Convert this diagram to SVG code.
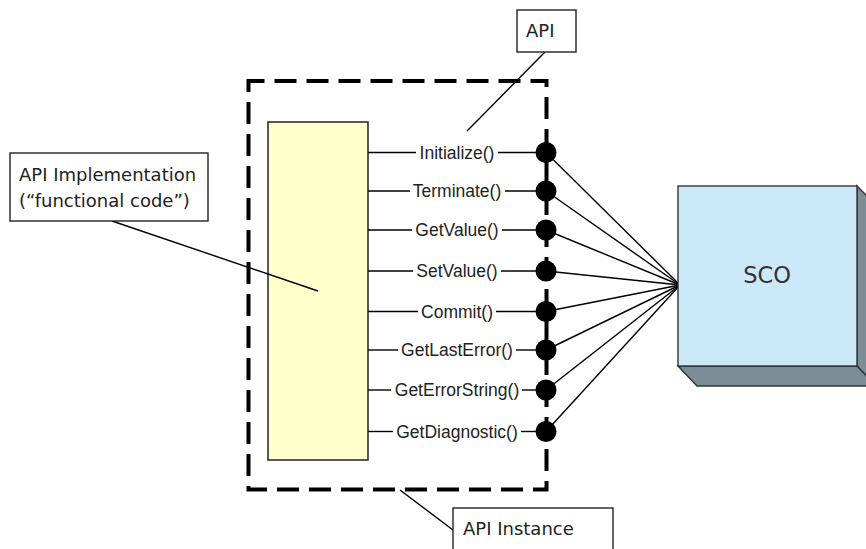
<svg xmlns="http://www.w3.org/2000/svg" width="866" height="549" viewBox="0 0 866 549">
<style>
.lbl{font-family:"Liberation Sans",Arial,sans-serif;font-size:17.5px;fill:#222;text-anchor:middle}
.co{font-family:"DejaVu Sans",Verdana,sans-serif;font-size:18px;fill:#222}
.ln{stroke:#000;stroke-width:1.4;fill:none}
.box{fill:#fff;stroke:#222;stroke-width:1.4}
.dot{fill:#000}
</style>
<rect width="866" height="549" fill="#fff"/>
<g id="api-instance-frame">
<rect x="248.5" y="81" width="298" height="408.5" fill="none" stroke="#000" stroke-width="4" stroke-dasharray="22 10" stroke-dashoffset="6"/>
</g>
<g id="implementation">
<rect x="268" y="122" width="100" height="338" fill="#FFFFCC" stroke="#222" stroke-width="1.5"/>
</g>
<g id="connectors">
<g class="ln">
<line x1="368" y1="152.5" x2="416" y2="152.5"/><line x1="498" y1="152.5" x2="546" y2="152.5"/>
<line x1="368" y1="191" x2="410" y2="191"/><line x1="505" y1="191" x2="546" y2="191"/>
<line x1="368" y1="230" x2="412" y2="230"/><line x1="502" y1="230" x2="546" y2="230"/>
<line x1="368" y1="271" x2="413" y2="271"/><line x1="501" y1="271" x2="546" y2="271"/>
<line x1="368" y1="311.5" x2="418" y2="311.5"/><line x1="496" y1="311.5" x2="546" y2="311.5"/>
<line x1="368" y1="350" x2="398" y2="350"/><line x1="516" y1="350" x2="546" y2="350"/>
<line x1="368" y1="390" x2="391" y2="390"/><line x1="522" y1="390" x2="546" y2="390"/>
<line x1="368" y1="431.5" x2="393" y2="431.5"/><line x1="521" y1="431.5" x2="546" y2="431.5"/>
<line x1="546" y1="152.5" x2="680" y2="285"/>
<line x1="546" y1="191" x2="680" y2="285"/>
<line x1="546" y1="230" x2="680" y2="285"/>
<line x1="546" y1="271" x2="680" y2="285"/>
<line x1="546" y1="311.5" x2="680" y2="285"/>
<line x1="546" y1="350" x2="680" y2="285"/>
<line x1="546" y1="390" x2="680" y2="285"/>
<line x1="546" y1="431.5" x2="680" y2="285"/>
<line x1="545" y1="52" x2="467" y2="131"/>
<line x1="112" y1="221" x2="318" y2="291"/>
<line x1="400" y1="490" x2="453" y2="530"/>
</g>
</g>
<g id="api-functions">
<circle class="dot" cx="546" cy="152.5" r="10.5"/>
<circle class="dot" cx="546" cy="191" r="10.5"/>
<circle class="dot" cx="546" cy="230" r="10.5"/>
<circle class="dot" cx="546" cy="271" r="10.5"/>
<circle class="dot" cx="546" cy="311.5" r="10.5"/>
<circle class="dot" cx="546" cy="350" r="10.5"/>
<circle class="dot" cx="546" cy="390" r="10.5"/>
<circle class="dot" cx="546" cy="431.5" r="10.5"/>
<text class="lbl" x="457" y="158.5">Initialize()</text>
<text class="lbl" x="457" y="197">Terminate()</text>
<text class="lbl" x="457" y="236">GetValue()</text>
<text class="lbl" x="457" y="277">SetValue()</text>
<text class="lbl" x="457" y="317.5">Commit()</text>
<text class="lbl" x="457" y="356">GetLastError()</text>
<text class="lbl" x="457" y="396">GetErrorString()</text>
<text class="lbl" x="457" y="437.5">GetDiagnostic()</text>
</g>
<g id="sco">
<polygon points="857,186 876,205 876,386 857,366" fill="#7B8D97" stroke="#333" stroke-width="1.4"/>
<polygon points="678,366 697,386 876,386 857,366" fill="#7B8D97" stroke="#333" stroke-width="1.4"/>
<rect x="678" y="186" width="179" height="180" fill="#CCE9FA" stroke="#333" stroke-width="1.4"/>
<text x="767" y="283" font-family="DejaVu Sans,Verdana,sans-serif" font-size="22.5" fill="#333" text-anchor="middle">SCO</text>
</g>
<g id="callout-api">
<rect class="box" x="517" y="10" width="59" height="42"/>
<text class="co" x="526" y="37">API</text>
</g>
<g id="callout-implementation">
<rect class="box" x="10" y="153" width="198" height="68"/>
<text class="co" x="19" y="181">API Implementation</text>
<text class="co" x="19" y="207">(“functional code”)</text>
</g>
<g id="callout-instance">
<rect class="box" x="453" y="508" width="160" height="50"/>
<text class="co" x="463" y="535">API Instance</text>
</g>
</svg>
